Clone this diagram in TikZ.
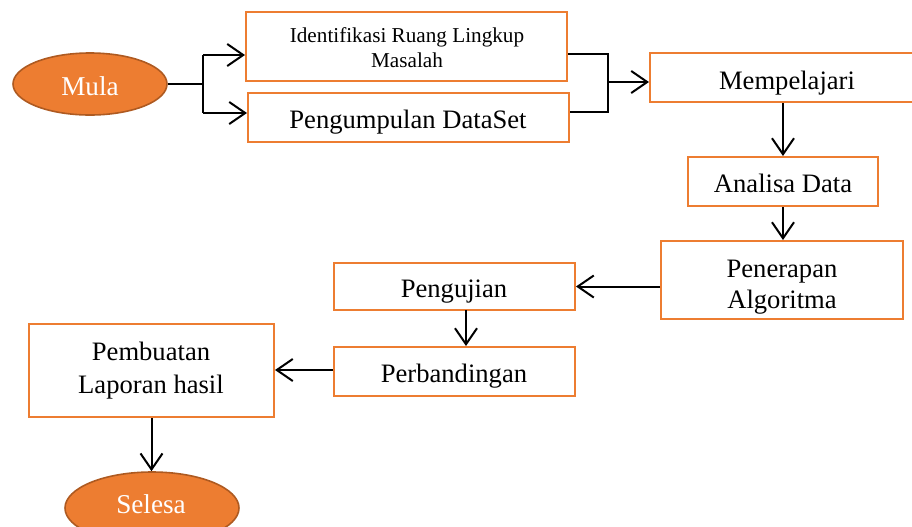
\documentclass[tikz,border=0pt]{standalone}
\usepackage{fontspec}
\setmainfont{Liberation Serif}
\usetikzlibrary{arrows.meta,shapes.geometric,fit}
\definecolor{orng}{HTML}{ED7D31}
\definecolor{orngdark}{HTML}{AE5A21}
\begin{document}
\begin{tikzpicture}[x=0.5pt,y=-0.5pt,
  box/.style={draw=orng, line width=1pt, inner sep=0pt, fill=white},
  oval/.style={ellipse, draw=orngdark, fill=orng, line width=0.8pt, inner sep=0pt},
  txt/.style={anchor=base, inner sep=0pt, font=\fontsize{13.3}{15}\selectfont},
  stxt/.style={anchor=base, inner sep=0pt, font=\fontsize{10.6}{12}\selectfont},
  wtxt/.style={anchor=base, inner sep=0pt, text=white, font=\fontsize{13.6}{15}\selectfont},
  conn/.style={line width=1pt},
  arr/.style={line width=1pt, -{Straight Barb[length=8pt,width=11pt,line width=1pt]}}]
\useasboundingbox (0,0) rectangle (912,526);

% nodes
\node[oval, minimum width=77pt, minimum height=31pt] (mula) at (90,84) {};
\node[wtxt] (mulat) at (90,95) {Mula};

\node[box, fit={(246,12) (567,81)}] (ident) {};
\node[stxt] (ident1) at (407,42) {Identifikasi Ruang Lingkup};
\node[stxt] (ident2) at (407,67) {Masalah};

\node[box, fit={(248,93) (569,142)}] (peng) {};
\node[txt] (pengt) at (408,128) {Pengumpulan DataSet};

\node[box, fit={(650,53) (925,102)}] (mempel) {};
\node[txt] (mempelt) at (787,89) {Mempelajari};

\node[box, fit={(688,157) (878,206)}] (analisa) {};
\node[txt] (analisat) at (783,192) {Analisa Data};

\node[box, fit={(661,241) (903,319)}] (pener) {};
\node[txt] (pener1) at (782,277) {Penerapan};
\node[txt] (pener2) at (782,308) {Algoritma};

\node[box, fit={(334,263) (575,310)}] (uji) {};
\node[txt] (ujit) at (454,297) {Pengujian};

\node[box, fit={(334,347) (575,396)}] (banding) {};
\node[txt] (bandingt) at (454,382) {Perbandingan};

\node[box, fit={(29,324) (274,417)}] (lap) {};
\node[txt] (lap1) at (151,360) {Pembuatan};
\node[txt] (lap2) at (151,393) {Laporan hasil};

\node[oval, minimum width=87pt, minimum height=36pt] (selesai) at (152,508) {};
\node[wtxt] (selesait) at (151,513) {Selesa};

% connectors
\coordinate (j1) at (203,84);
\coordinate (j1t) at (203,55);
\coordinate (j1b) at (203,113);
\draw[conn] (mula.east) -- (j1);
\draw[conn] (j1t) -- (j1b);
\draw[arr] (j1t) -- (ident.west |- j1t);
\draw[arr] (j1b) -- (peng.west |- j1b);

\coordinate (j2) at (608,82);
\coordinate (j2t) at (608,54);
\coordinate (j2b) at (608,112);
\draw[conn] (ident.east |- j2t) -- (j2t) -- (j2b) -- (peng.east |- j2b);
\draw[arr] (j2) -- (mempel.west |- j2);

\draw[arr] (analisa.north |- mempel.south) -- (analisa.north);
\draw[arr] (analisa.south) -- (analisa.south |- pener.north);
\draw[arr] (pener.west |- uji.east) -- (uji.east);
\coordinate (u1) at (466,310);
\draw[arr] (u1) -- (u1 |- banding.north);
\draw[arr] (banding.west |- 0,370) -- (lap.east |- 0,370);
\draw[arr] (lap.south) -- (lap.south |- selesai.north);
\end{tikzpicture}
\end{document}
